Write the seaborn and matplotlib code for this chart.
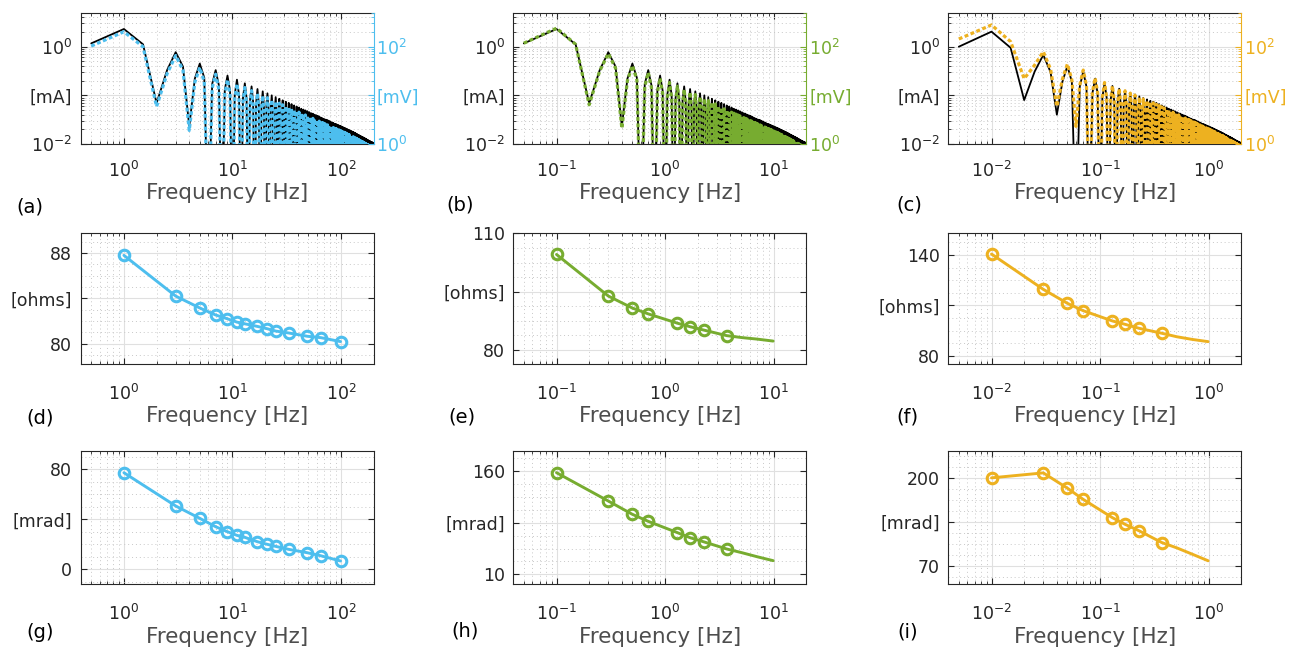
import numpy as np
import matplotlib
matplotlib.use("Agg")
import matplotlib.pyplot as plt
import seaborn as sns
from matplotlib.ticker import (FixedLocator, FixedFormatter, LogLocator,
                               NullFormatter, AutoMinorLocator)

# ---------------------------------------------------------------- colours
BLUE = "#4DBEEE"
GREEN = "#77AC30"
ORANGE = "#EDB120"

# ---------------------------------------------------------------- data
# Spectra: bins in units of the fundamental (1 Hz, 0.1 Hz, 0.01 Hz).
fundamental_hz = [1.0, 0.1, 0.01]
I_FLOOR = 1e-4   # mA, even harmonics (below the plotted range)
V_FLOOR = 1e-2   # mV

# head: bins 0.5, 1.0, ..., 30 ; one row per 2 bins
current_head_ab = [
    1.17, 2.31, 1.12, 0.069,
    0.33, 0.77, 0.39, 0.023,
    0.22, 0.45, 0.23, I_FLOOR,
    0.17, 0.33, 0.16, I_FLOOR,
    0.13, 0.255, 0.125, I_FLOOR,
    0.105, 0.21, 0.10, I_FLOOR,
    0.089, 0.177, 0.085, I_FLOOR,
    0.077, 0.153, 0.074, I_FLOOR,
    0.068, 0.135, 0.066, I_FLOOR,
    0.061, 0.121, 0.059, I_FLOOR,
    0.055, 0.110, 0.054, I_FLOOR,
    0.050, 0.100, 0.049, I_FLOOR,
    0.046, 0.092, 0.045, I_FLOOR,
    0.043, 0.085, 0.042, I_FLOOR,
    0.040, 0.079, 0.039, I_FLOOR,
]
current_head_c = [
    1.00, 2.04, 0.95, 0.080,
    0.31, 0.68, 0.30, 0.040,
    0.19, 0.40, 0.19, I_FLOOR,
    0.15, 0.31, 0.15, I_FLOOR,
    0.11, 0.22, 0.11, I_FLOOR,
    0.09, 0.18, 0.09, I_FLOOR,
    0.078, 0.156, 0.077, I_FLOOR,
    0.068, 0.137, 0.066, I_FLOOR,
    0.062, 0.125, 0.061, I_FLOOR,
    0.057, 0.113, 0.056, I_FLOOR,
    0.052, 0.104, 0.051, I_FLOOR,
    0.048, 0.095, 0.047, I_FLOOR,
    0.044, 0.088, 0.043, I_FLOOR,
    0.041, 0.082, 0.040, I_FLOOR,
    0.038, 0.077, 0.038, I_FLOOR,
]
voltage_head_a = [
    103, 203, 100, 5.9,
    28, 66, 33, 1.9,
    18.5, 37.5, 19, V_FLOOR,
    14.0, 27.2, 13.2, V_FLOOR,
    10.7, 21.0, 10.3, V_FLOOR,
    8.6, 17.2, 8.2, V_FLOOR,
    7.28, 14.5, 6.94, V_FLOOR,
    6.29, 12.5, 6.03, V_FLOOR,
    5.54, 11.0, 5.38, V_FLOOR,
    4.97, 9.85, 4.80, V_FLOOR,
    4.47, 8.94, 4.39, V_FLOOR,
    4.06, 8.12, 3.98, V_FLOOR,
    3.73, 7.46, 3.65, V_FLOOR,
    3.49, 6.89, 3.40, V_FLOOR,
    3.24, 6.40, 3.16, V_FLOOR,
]
voltage_head_b = [
    118, 240, 112, 6.4,
    31.7, 72.3, 36.1, 2.1,
    20.1, 40.9, 20.8, V_FLOOR,
    15.2, 29.5, 14.2, V_FLOOR,
    11.5, 22.4, 11.0, V_FLOOR,
    9.19, 18.4, 8.73, V_FLOOR,
    7.74, 15.4, 7.38, V_FLOOR,
    6.66, 13.2, 6.39, V_FLOOR,
    5.85, 11.6, 5.67, V_FLOOR,
    5.23, 10.4, 5.04, V_FLOOR,
    4.70, 9.38, 4.60, V_FLOOR,
    4.26, 8.51, 4.17, V_FLOOR,
    3.91, 7.80, 3.81, V_FLOOR,
    3.64, 7.19, 3.55, V_FLOOR,
    3.38, 6.67, 3.29, V_FLOOR,
]
voltage_head_c = [
    144, 280, 127, 22,
    42, 79, 34.5, 5.9,
    21.5, 44, 20.7, 2.3,
    16.1, 33.1, 15.9, V_FLOOR,
    11.5, 22.9, 11.4, V_FLOOR,
    9.2, 18.4, 9.16, V_FLOOR,
    7.89, 15.7, 7.74, V_FLOOR,
    6.80, 13.7, 6.57, V_FLOOR,
    6.14, 12.4, 6.01, V_FLOOR,
    5.59, 11.1, 5.47, V_FLOOR,
    5.06, 10.1, 4.94, V_FLOOR,
    4.64, 9.16, 4.53, V_FLOOR,
    4.23, 8.45, 4.12, V_FLOOR,
    3.92, 7.83, 3.82, V_FLOOR,
    3.61, 7.32, 3.61, V_FLOOR,
]
# tail: peaks at odd bins 31, 33, ..., 199 and the shoulders at +-0.5 bin
current_tail_peak = [
    0.074, 0.070, 0.066, 0.062, 0.059, 0.056, 0.053, 0.051, 0.049, 0.047,
    0.045, 0.043, 0.042, 0.040, 0.039, 0.038, 0.0365, 0.035, 0.034, 0.033,
    0.032, 0.0315, 0.031, 0.030, 0.029, 0.028, 0.0277, 0.027, 0.026, 0.0258,
    0.0253, 0.0247, 0.0242, 0.0237, 0.0232, 0.0228, 0.0223, 0.0219, 0.0215, 0.0211,
    0.0207, 0.0203, 0.0199, 0.0195, 0.0192, 0.0188, 0.0185, 0.0182, 0.0179, 0.0176,
    0.0173, 0.0170, 0.0167, 0.0164, 0.0161, 0.0158, 0.0155, 0.0153, 0.0150, 0.0148,
    0.0145, 0.0143, 0.0141, 0.0139, 0.0137, 0.0135, 0.0133, 0.0131, 0.0129, 0.0127,
    0.0125, 0.0123, 0.0121, 0.0119, 0.0118, 0.0116, 0.0115, 0.0113, 0.0112, 0.0110,
    0.0109, 0.0108, 0.0107, 0.0106, 0.0105,
]
current_tail_shoulder = [
    0.037, 0.035, 0.033, 0.031, 0.0295, 0.028, 0.0265, 0.0255, 0.0245, 0.0235,
    0.0225, 0.0215, 0.021, 0.020, 0.0195, 0.019, 0.0183, 0.0175, 0.017, 0.0165,
    0.016, 0.0158, 0.0155, 0.015, 0.0145, 0.014, 0.0139, 0.0135, 0.013, 0.0129,
    0.0127, 0.0124, 0.0121, 0.0119, 0.0116, 0.0114, 0.0112, 0.011, 0.0108, 0.0106,
    0.0104, 0.0102, 0.0100, 0.0098, 0.0096, 0.0094, 0.0093, 0.0091, 0.0090, 0.0088,
    0.0087, 0.0085, 0.0084, 0.0082, 0.0081, 0.0079, 0.0078, 0.0077, 0.0075, 0.0074,
    0.0073, 0.0072, 0.0071, 0.0070, 0.0069, 0.0068, 0.0067, 0.0066, 0.0065, 0.0064,
    0.0063, 0.0062, 0.0061, 0.0060, 0.0059, 0.0058, 0.0058, 0.0057, 0.0056, 0.0055,
    0.0055, 0.0054, 0.0054, 0.0053, 0.0053,
]
voltage_tail_peak_ab = [
    5.97, 5.61, 5.29, 5.00, 4.74, 4.51, 4.30, 4.11, 3.94, 3.78,
    3.63, 3.49, 3.36, 3.25, 3.14, 3.03, 2.94, 2.85, 2.76, 2.68,
    2.61, 2.53, 2.47, 2.40, 2.34, 2.28, 2.23, 2.18, 2.13, 2.08,
    2.03, 1.99, 1.95, 1.91, 1.87, 1.83, 1.80, 1.76, 1.73, 1.70,
    1.66, 1.63, 1.60, 1.57, 1.54, 1.50, 1.48, 1.45, 1.43, 1.40,
    1.38, 1.36, 1.33, 1.31, 1.28, 1.26, 1.24, 1.22, 1.20, 1.18,
    1.16, 1.14, 1.13, 1.11, 1.09, 1.08, 1.06, 1.05, 1.03, 1.01,
    1.00, 0.98, 0.97, 0.95, 0.94, 0.93, 0.92, 0.90, 0.89, 0.88,
    0.87, 0.86, 0.85, 0.85, 0.84,
]
voltage_tail_shoulder_ab = [
    2.99, 2.81, 2.65, 2.50, 2.37, 2.26, 2.15, 2.06, 1.97, 1.89,
    1.82, 1.75, 1.68, 1.63, 1.57, 1.52, 1.47, 1.43, 1.38, 1.34,
    1.31, 1.27, 1.24, 1.20, 1.17, 1.14, 1.12, 1.09, 1.07, 1.04,
    1.02, 1.00, 0.98, 0.96, 0.94, 0.92, 0.90, 0.88, 0.87, 0.85,
    0.83, 0.82, 0.80, 0.79, 0.77, 0.75, 0.74, 0.73, 0.72, 0.70,
    0.69, 0.68, 0.67, 0.66, 0.64, 0.63, 0.62, 0.61, 0.60, 0.59,
    0.58, 0.57, 0.57, 0.56, 0.55, 0.54, 0.53, 0.53, 0.52, 0.51,
    0.50, 0.49, 0.49, 0.48, 0.47, 0.47, 0.46, 0.45, 0.45, 0.44,
    0.44, 0.43, 0.43, 0.43, 0.42,
]
voltage_tail_peak_c = [
    7.01, 6.55, 6.16, 5.81, 5.49, 5.20, 4.94, 4.71, 4.49, 4.30,
    4.12, 3.96, 3.80, 3.67, 3.53, 3.41, 3.30, 3.19, 3.09, 2.99,
    2.91, 2.83, 2.75, 2.68, 2.60, 2.54, 2.47, 2.41, 2.35, 2.29,
    2.25, 2.19, 2.15, 2.10, 2.05, 2.02, 1.97, 1.93, 1.90, 1.86,
    1.82, 1.79, 1.75, 1.71, 1.69, 1.65, 1.62, 1.60, 1.57, 1.54,
    1.52, 1.49, 1.46, 1.44, 1.41, 1.38, 1.35, 1.34, 1.31, 1.29,
    1.26, 1.25, 1.23, 1.21, 1.19, 1.18, 1.16, 1.14, 1.12, 1.10,
    1.09, 1.07, 1.05, 1.04, 1.03, 1.01, 1.00, 0.98, 0.97, 0.96,
    0.95, 0.94, 0.93, 0.92, 0.91,
]
voltage_tail_shoulder_c = [
    3.51, 3.28, 3.08, 2.91, 2.75, 2.60, 2.47, 2.36, 2.25, 2.15,
    2.06, 1.98, 1.90, 1.84, 1.77, 1.71, 1.65, 1.60, 1.55, 1.50,
    1.46, 1.42, 1.38, 1.34, 1.30, 1.27, 1.24, 1.21, 1.18, 1.15,
    1.13, 1.10, 1.08, 1.05, 1.03, 1.01, 0.99, 0.97, 0.95, 0.93,
    0.91, 0.90, 0.88, 0.86, 0.85, 0.83, 0.81, 0.80, 0.79, 0.77,
    0.76, 0.75, 0.73, 0.72, 0.71, 0.69, 0.68, 0.67, 0.66, 0.65,
    0.63, 0.63, 0.62, 0.61, 0.60, 0.59, 0.58, 0.57, 0.56, 0.55,
    0.55, 0.54, 0.53, 0.52, 0.52, 0.51, 0.50, 0.49, 0.49, 0.48,
    0.48, 0.47, 0.47, 0.46, 0.46,
]

# Impedance magnitude / phase (markers = first n points, rest = model line)
d_hz = [1, 3, 5, 7, 9, 11, 13, 17, 21, 25, 33, 49, 65, 99]
d_ohm = [87.8, 84.2, 83.15, 82.53, 82.19, 81.9, 81.75, 81.52, 81.31, 81.11,
         80.94, 80.65, 80.53, 80.18]
g_mrad = [77.3, 50.7, 40.8, 34.1, 30.1, 27.2, 25.6, 22.1, 20.0, 18.4, 16.0,
          13.3, 10.9, 6.7]
e_hz = [0.1, 0.3, 0.5, 0.7, 1.3, 1.7, 2.3, 3.7, 5.1, 7.1, 9.9]
e_ohm = [104.6, 93.9, 90.8, 89.3, 86.9, 86.0, 85.1, 83.7, 83.2, 82.8, 82.3]
h_mrad = [158.1, 116.8, 97.4, 87.2, 70.7, 63.4, 57.1, 46.9, 41.5, 35.5, 29.9]
f_hz = [0.01, 0.03, 0.05, 0.07, 0.13, 0.17, 0.23, 0.37, 0.51, 0.71, 0.99]
f_ohm = [140.6, 119.6, 111.3, 106.9, 100.8, 98.8, 96.4, 93.5, 91.4, 89.8, 88.5]
i_mrad = [200.0, 207.3, 184.8, 168.2, 141.3, 131.5, 121.8, 104.7, 96.8, 87.4, 77.8]

x_tick_labels = [
    ["$\\mathregular{10^{0}}$", "$\\mathregular{10^{1}}$", "$\\mathregular{10^{2}}$"],
    ["$\\mathregular{10^{-1}}$", "$\\mathregular{10^{0}}$", "$\\mathregular{10^{1}}$"],
    ["$\\mathregular{10^{-2}}$", "$\\mathregular{10^{-1}}$", "$\\mathregular{10^{0}}$"],
]
x_ticks = [[1, 10, 100], [0.1, 1, 10], [0.01, 0.1, 1]]
x_limits = [(0.4, 200), (0.04, 20), (0.004, 2)]

# ---------------------------------------------------------------- style
sns.set_theme(style="ticks")
plt.rcParams.update({
    "font.family": ["DejaVu Sans"],
    "mathtext.fontset": "dejavusans",
    "axes.facecolor": "white",
    "figure.facecolor": "white",
})
AX_COL = "#262626"
LBL_COL = "#4d4d4d"
TICK_FS = 12.5

FIG_W, FIG_H = 1295, 648
fig = plt.figure(figsize=(FIG_W / 100, FIG_H / 100), dpi=100)

col_left = [80.7, 513.3, 948.3]
col_width = 293.0
rows = [(12.7, 144.0), (232.7, 364.0), (450.7, 584.0)]
xlabel_center_y = [193, 416, 637]
xtick_pad = [12.5, 14, 14]


def add_ax(ci, ri):
    t, b = rows[ri]
    return fig.add_axes([col_left[ci] / FIG_W, 1 - b / FIG_H,
                         col_width / FIG_W, (b - t) / FIG_H])


def base_style(ax, ci, ri):
    ax.set_xscale("log")
    ax.set_xlim(*x_limits[ci])
    ax.xaxis.set_major_locator(FixedLocator(x_ticks[ci]))
    ax.xaxis.set_major_formatter(FixedFormatter(x_tick_labels[ci]))
    ax.xaxis.set_minor_locator(LogLocator(base=10, subs=np.arange(2, 10), numticks=30))
    ax.xaxis.set_minor_formatter(NullFormatter())
    for s in ax.spines.values():
        s.set_color(AX_COL)
        s.set_linewidth(0.8)
    ax.tick_params(axis="both", which="both", direction="in", color=AX_COL,
                   labelcolor=AX_COL, labelsize=TICK_FS)
    ax.tick_params(which="major", length=4, width=0.8)
    ax.tick_params(which="minor", length=2.2, width=0.6)
    ax.tick_params(axis="x", which="both", top=True, bottom=True, pad=xtick_pad[ri])
    ax.tick_params(axis="y", which="major", left=True, pad=6)
    ax.grid(True, which="major", color="#e0e0e0", lw=0.8, ls="-")
    ax.grid(True, which="minor", color="#c8c8c8", lw=0.7, ls=(0, (1, 3)))
    ax.set_axisbelow(True)
    t, b = rows[ri]
    ax.set_xlabel("Frequency [Hz]", fontsize=15.5, color=LBL_COL, va="center")
    ax.xaxis.set_label_coords(0.5, -(xlabel_center_y[ri] - b) / (b - t))


def spectrum(head, tail_peak, tail_shoulder, floor, fund):
    # uniform half-bin grid 0.5 ... 200
    bins = np.arange(1, 401) * 0.5
    tail = np.empty((len(tail_peak), 4))
    tail[:, 0] = tail_shoulder
    tail[:, 1] = tail_peak
    tail[:, 2] = tail_shoulder
    tail[:, 3] = floor
    vals = np.concatenate([np.asarray(head, float), tail.ravel()])
    return bins * fund, vals


# ---------------------------------------------------------------- row 1 (spectra)
spec_cfg = [
    (BLUE, current_head_ab, voltage_head_a, voltage_tail_peak_ab, voltage_tail_shoulder_ab),
    (GREEN, current_head_ab, voltage_head_b, voltage_tail_peak_ab, voltage_tail_shoulder_ab),
    (ORANGE, current_head_c, voltage_head_c, voltage_tail_peak_c, voltage_tail_shoulder_c),
]
for ci, (color, i_head, v_head, v_pk, v_sh) in enumerate(spec_cfg):
    ax = add_ax(ci, 0)
    ax.set_xscale("log")
    ax.set_yscale("log")
    fx, iv = spectrum(i_head, current_tail_peak, current_tail_shoulder, I_FLOOR,
                      fundamental_hz[ci])
    _, vv = spectrum(v_head, v_pk, v_sh, V_FLOOR, fundamental_hz[ci])
    sns.lineplot(x=fx, y=iv, ax=ax, color="black", lw=1.3, estimator=None, sort=False)
    ax2 = ax.twinx()
    ax2.set_yscale("log")
    sns.lineplot(x=fx, y=vv, ax=ax2, color=color, lw=2.3, linestyle=(0, (1.2, 0.8)),
                 estimator=None, sort=False)
    base_style(ax, ci, 0)
    ax.set_ylim(0.01, 5)
    ax.yaxis.set_major_locator(FixedLocator([0.01, 0.1, 1]))
    ax.yaxis.set_major_formatter(FixedFormatter(
        ["$\\mathregular{10^{-2}}$", "[mA]", "$\\mathregular{10^{0}}$"]))
    ax.yaxis.set_minor_locator(LogLocator(base=10, subs=np.arange(2, 10), numticks=30))
    ax.yaxis.set_minor_formatter(NullFormatter())
    ax.tick_params(axis="y", which="both", right=False)
    ax.spines["right"].set_visible(False)
    ax.set_ylabel("")

    ax2.set_ylim(1, 500)
    ax2.yaxis.set_major_locator(FixedLocator([1, 10, 100]))
    ax2.yaxis.set_major_formatter(FixedFormatter(
        ["$\\mathregular{10^{0}}$", "[mV]", "$\\mathregular{10^{2}}$"]))
    ax2.yaxis.set_minor_locator(LogLocator(base=10, subs=np.arange(2, 10), numticks=30))
    ax2.yaxis.set_minor_formatter(NullFormatter())
    for s in ["left", "top", "bottom"]:
        ax2.spines[s].set_visible(False)
    ax2.spines["right"].set_color(color)
    ax2.spines["right"].set_linewidth(0.8)
    ax2.tick_params(axis="y", which="both", direction="in", color=color,
                    labelcolor=color, labelsize=TICK_FS, pad=2)
    ax2.tick_params(axis="y", which="major", length=4, width=0.8)
    ax2.tick_params(axis="y", which="minor", length=2.2, width=0.6)
    ax2.set_ylabel("")
    ax2.set_xlim(*x_limits[ci])

# ---------------------------------------------------------------- rows 2, 3
imp_cfg = [
    # (col, row, colour, x, y, n_markers, ylim, yticks, yticklabels)
    (0, 1, BLUE, d_hz, d_ohm, 14, (78.2, 89.8), [80, 84, 88], ["80", "[ohms]", "88"]),
    (1, 1, GREEN, e_hz, e_ohm, 8, (76.4, 110.2), [80, 95, 110], ["80", "[ohms]", "110"]),
    (2, 1, ORANGE, f_hz, f_ohm, 8, (75.2, 153.3), [80, 110, 140], ["80", "[ohms]", "140"]),
    (0, 2, BLUE, d_hz, g_mrad, 14, (-11.7, 94.9), [0, 40, 80], ["0", "[mrad]", "80"]),
    (1, 2, GREEN, e_hz, h_mrad, 8, (-4.1, 190.1), [10, 85, 160], ["10", "[mrad]", "160"]),
    (2, 2, ORANGE, f_hz, i_mrad, 8, (43.6, 240.0), [70, 135, 200], ["70", "[mrad]", "200"]),
]
for ci, ri, color, xs, ys, nm, ylim, yt, ytl in imp_cfg:
    ax = add_ax(ci, ri)
    ax.set_xscale("log")
    sns.lineplot(x=xs, y=ys, ax=ax, color=color, lw=2.1, estimator=None, sort=False,
                 marker="o", markevery=list(range(nm)), markersize=7.6,
                 markerfacecolor="none", markeredgecolor=color, markeredgewidth=2.2)
    base_style(ax, ci, ri)
    ax.set_ylim(*ylim)
    ax.yaxis.set_major_locator(FixedLocator(yt))
    ax.yaxis.set_major_formatter(FixedFormatter(ytl))
    ax.yaxis.set_minor_locator(AutoMinorLocator(4))
    ax.tick_params(axis="y", which="major", right=True, labelright=False)
    ax.tick_params(axis="y", which="minor", length=0)
    ax.set_ylabel("")

# ---------------------------------------------------------------- panel letters
letters = [
    ("(a)", 16, 207), ("(b)", 446, 205), ("(c)", 896, 205),
    ("(d)", 26, 418), ("(e)", 448, 417), ("(f)", 896, 417),
    ("(g)", 26, 633), ("(h)", 451, 631), ("(i)", 897, 632),
]
for txt, x, y in letters:
    fig.text(x / FIG_W, 1 - y / FIG_H, txt, ha="left", va="center",
             fontsize=14, color="black")

fig.savefig("out.png", dpi=100)
